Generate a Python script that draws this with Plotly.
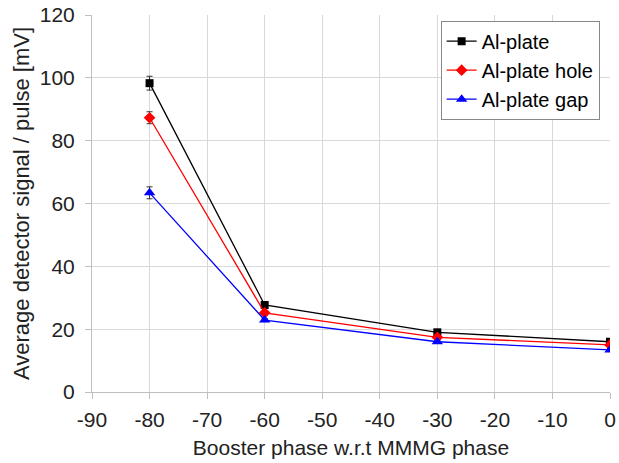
import plotly.graph_objects as go

phase = [-80, -60, -30, 0]

al_plate = [98.3, 27.7, 19.0, 16.0]
al_plate_err = [2.2, 0.6, 0.5, 0.5]

al_hole = [87.3, 25.2, 17.4, 15.0]
al_hole_err = [1.9, 0.5, 0.5, 0.4]

al_gap = [63.4, 22.9, 16.0, 13.4]
al_gap_err = [1.9, 0.5, 0.4, 0.4]

x_ticks = [-90, -80, -70, -60, -50, -40, -30, -20, -10, 0]
x_tick_text = ["-90", "-80", "-70", "-60", "-50", "-40", "-30", "-20", "-10", "0"]
y_ticks = [0, 20, 40, 60, 80, 100, 120]

series = [
    ("Al-plate", al_plate, al_plate_err, "black", "square", 8),
    ("Al-plate hole", al_hole, al_hole_err, "red", "diamond", 9),
    ("Al-plate gap", al_gap, al_gap_err, "blue", "triangle-up", 10),
]

fig = go.Figure()
for name, vals, errs, color, symbol, size in series:
    fig.add_trace(go.Scatter(
        x=phase, y=vals, name=name, mode="lines+markers",
        line=dict(color=color, width=1.3),
        marker=dict(color=color, symbol=symbol, size=size),
        error_y=dict(type="data", array=errs, visible=True,
                     color="#333333", thickness=1, width=3),
    ))

family = "Liberation Sans, Arial, sans-serif"

fig.update_layout(
    width=619, height=463,
    margin=dict(l=92, r=9, t=15, b=71),
    paper_bgcolor="white", plot_bgcolor="white",
    font=dict(family=family, size=22, color="#222222"),
    showlegend=True,
    legend=dict(
        x=0.98, y=0.985, xanchor="right", yanchor="top",
        bgcolor="white", bordercolor="#888888", borderwidth=1,
        font=dict(family=family, size=20, color="black"),
        itemwidth=30, tracegroupgap=0,
    ),
    xaxis=dict(
        range=[-90, 0], tickvals=x_ticks, ticktext=x_tick_text,
        automargin=False,
        showgrid=True, gridcolor="#d9d9d9", gridwidth=1,
        showline=True, linecolor="#bfbfbf", linewidth=1,
        ticks="outside", ticklen=6, tickcolor="#bfbfbf",
        ticklabelstandoff=3,
        zeroline=False,
        title=dict(text="Booster phase w.r.t MMMG phase", font=dict(size=21), standoff=10),
        tickfont=dict(size=21),
    ),
    yaxis=dict(
        range=[0, 120], tickvals=y_ticks,
        automargin=False,
        showgrid=True, gridcolor="#d9d9d9", gridwidth=1,
        showline=True, linecolor="#bfbfbf", linewidth=1,
        ticks="outside", ticklen=6, tickcolor="#bfbfbf",
        ticklabelstandoff=6,
        zeroline=False,
        title=dict(text="Average detector signal / pulse [mV]", font=dict(size=22), standoff=4),
        tickfont=dict(size=21),
    ),
)

fig.write_html("out.html")
